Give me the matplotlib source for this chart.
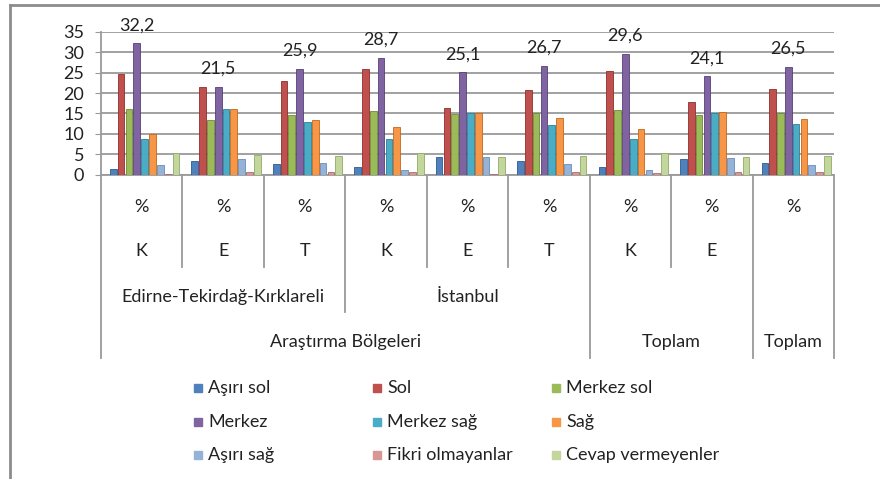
import matplotlib.pyplot as plt
import matplotlib.transforms as mtransforms
from matplotlib.patches import Rectangle
import numpy as np

plt.rcParams['font.family'] = ['Lato', 'DejaVu Sans']

series = ['Aşırı sol', 'Sol', 'Merkez sol', 'Merkez', 'Merkez sağ', 'Sağ',
          'Aşırı sağ', 'Fikri olmayanlar', 'Cevap vermeyenler']
colors = ['#4F81BD', '#C0504D', '#9BBB59', '#8064A2', '#4BACC6', '#F79646',
          '#95B3D7', '#D99694', '#C3D69B']
edges = ['#2C5A8F', '#8E2F2C', '#6E8A36', '#56407A', '#2A7F99', '#C0691F',
         '#6A8BB8', '#B06A68', '#93A86A']

# values per group: Edirne K,E,T | Istanbul K,E,T | Toplam K,E | Toplam
asiri_sol = [1.3, 3.4, 2.6, 1.9, 4.2, 3.3, 1.8, 3.9, 2.9]
sol = [24.6, 21.5, 22.9, 25.9, 16.4, 20.8, 25.5, 17.7, 21.1]
merkez_sol = [16.1, 13.4, 14.5, 15.7, 14.9, 15.2, 15.8, 14.5, 15.0]
merkez = [32.2, 21.5, 25.9, 28.7, 25.1, 26.7, 29.6, 24.1, 26.5]
merkez_sag = [8.8, 16.1, 13.0, 8.6, 15.0, 12.2, 8.7, 15.2, 12.3]
sag = [10.0, 16.1, 13.4, 11.7, 15.2, 13.8, 11.1, 15.3, 13.6]
asiri_sag = [2.4, 3.7, 2.8, 1.0, 4.3, 2.5, 1.1, 4.0, 2.4]
fikri = [0.2, 0.6, 0.5, 0.5, 0.2, 0.5, 0.4, 0.5, 0.5]
cevap = [5.4, 4.7, 4.6, 5.3, 4.3, 4.6, 5.3, 4.4, 4.6]
values = [asiri_sol, sol, merkez_sol, merkez, merkez_sag, sag, asiri_sag, fikri, cevap]

row1 = ['%'] * 9
row2 = ['K', 'E', 'T', 'K', 'E', 'T', 'K', 'E', '']
row3 = [('Edirne-Tekirdağ-Kırklareli', 0, 2), ('İstanbul', 3, 5)]
row4 = [('Araştırma Bölgeleri', 0, 5), ('Toplam', 6, 7), ('Toplam', 8, 8)]

W, H = 880, 479
fig = plt.figure(figsize=(W / 100, H / 100), dpi=100)
ax = fig.add_axes([101 / W, 1 - 174.5 / H, 733 / W, 142.5 / H])

grid_c = '#9A9A9A'
txt_c = '#222222'
x = np.arange(9)
pitch = 0.096
shift = 0.035
for i, (vals, c, e) in enumerate(zip(values, colors, edges)):
    ax.bar(x + shift + (i - 4) * pitch, vals, width=0.082, color=c,
           edgecolor=e, linewidth=0.6, zorder=3)

# labels above the Merkez bars
for xi, v in zip(x, merkez):
    ax.annotate(f'{v:.1f}'.replace('.', ','), (xi + shift - pitch, v),
                xytext=(0, 13), textcoords='offset points', ha='center',
                va='center', fontsize=13, color=txt_c)

ax.set_xlim(-0.5, 8.5)
ax.set_ylim(0, 35)
ax.set_yticks(range(0, 36, 5))
ax.set_xticks([])
ax.yaxis.grid(True, color=grid_c, linewidth=1.3, zorder=0)
ax.set_axisbelow(True)
for s in ['top', 'right']:
    ax.spines[s].set_visible(False)
for s in ['left', 'bottom']:
    ax.spines[s].set_color(grid_c)
    ax.spines[s].set_linewidth(1.3)
ax.tick_params(axis='y', length=4, color=grid_c, labelsize=13,
               labelcolor=txt_c, pad=8)

# category table below the plot
tr = mtransforms.blended_transform_factory(ax.transData, fig.transFigure)
fy = lambda py: 1 - py / H
line_top = fy(176)
depth = {-0.5: 358, 0.5: 267, 1.5: 267, 2.5: 312, 3.5: 267, 4.5: 267,
         5.5: 358, 6.5: 267, 7.5: 358, 8.5: 358}
for bx, bottom in depth.items():
    fig.add_artist(plt.Line2D([bx, bx], [line_top, fy(bottom)], transform=tr,
                              color=grid_c, linewidth=1.3))

tkw = dict(transform=tr, ha='center', va='center', fontsize=13, color=txt_c)
for xi, t in zip(x, row1):
    fig.text(xi, fy(207), t, **tkw)
for xi, t in zip(x, row2):
    fig.text(xi, fy(251), t, **tkw)
for t, a, b in row3:
    fig.text((a + b) / 2, fy(297), t, **tkw)
for t, a, b in row4:
    fig.text((a + b) / 2, fy(342), t, **tkw)

# legend
col_x = [194, 373, 552]
row_y = [388, 422, 455]
for i, (name, c) in enumerate(zip(series, colors)):
    px, py = col_x[i % 3], row_y[i // 3]
    fig.add_artist(Rectangle((px / W, fy(py + 4)), 8 / W, 8 / H,
                             transform=fig.transFigure, color=c))
    fig.text((px + 14) / W, fy(py), name, fontsize=13, va='center',
             ha='left', color=txt_c)

# outer frame (top and left)
fig.add_artist(plt.Line2D([10 / W, 1], [fy(5), fy(5)], transform=fig.transFigure,
                          color='#8C8C8C', linewidth=2))
fig.add_artist(plt.Line2D([10 / W, 10 / W], [fy(5), 0], transform=fig.transFigure,
                          color='#8C8C8C', linewidth=2))

fig.savefig('out.png', dpi=100)
